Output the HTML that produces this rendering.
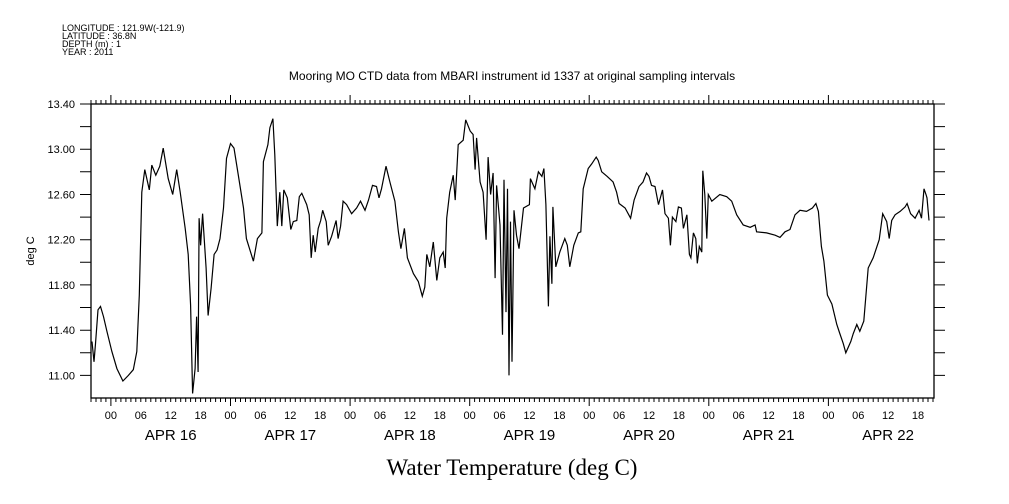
<!DOCTYPE html>
<html><head><meta charset="utf-8"><style>
body{margin:0;background:#fff;}
svg{display:block;font-family:"Liberation Sans",sans-serif;}
</style></head><body>
<svg id="chart" width="1009" height="504" viewBox="0 0 1009 504">
<g font-size="9" fill="#000">
<text x="62" y="31">LONGITUDE : 121.9W(-121.9)</text>
<text x="62" y="39">LATITUDE : 36.8N</text>
<text x="62" y="47">DEPTH (m) : 1</text>
<text x="62" y="55">YEAR : 2011</text>
</g>
<text x="512" y="80" font-size="12" text-anchor="middle">Mooring MO CTD data from MBARI instrument id 1337 at original sampling intervals</text>
<text x="0" y="0" font-size="11" text-anchor="middle" transform="translate(34,251) rotate(-90)">deg C</text>
<text x="512" y="475" font-size="23" text-anchor="middle" font-family="Liberation Serif, serif">Water Temperature (deg C)</text>
<g id="axes"></g>
<g id="series"></g>
</svg>
<script>
// hours since Apr 15 20:00
const times=[0.2,0.6,0.9,1.4,1.9,2.5,3.2,4.2,5.2,6.4,7.5,8.5,9.2,9.7,10.2,10.8,11.7,12.2,13.0,13.8,14.5,15.5,16.4,17.2,17.9,18.9,19.5,20.0,20.4,20.9,21.2,21.5,21.7,22.0,22.4,23.1,23.5,24.1,24.7,25.3,25.9,26.6,27.2,28.0,28.7,29.6,30.6,31.2,32.6,33.4,34.3,34.6,35.5,35.9,36.5,36.9,37.4,37.9,38.3,38.7,39.4,40.1,40.6,41.3,41.8,42.3,43.3,43.8,44.2,44.6,45.0,45.6,46.1,46.5,47.2,47.6,48.3,49.2,49.6,50.1,50.6,51.3,52.3,53.3,54.1,55.0,55.7,56.5,57.3,57.8,
58.3,59.2,60.0,61.0,61.7,62.2,62.9,63.5,64.7,65.7,66.5,67.0,67.4,68.0,68.7,69.4,70.0,70.7,71.1,71.4,72.0,72.7,73.1,73.7,74.7,75.2,76.1,76.7,77.1,77.4,78.1,78.7,79.3,79.7,80.2,80.7,81.1,81.4,82.1,82.6,82.9,83.3,83.6,83.9,84.2,84.5,84.9,85.4,85.9,86.8,88.0,88.2,89.1,89.8,90.5,90.9,91.3,91.8,92.1,92.5,92.7,93.3,94.1,95.1,95.6,96.1,96.9,97.8,98.3,98.8,99.8,100.5,101.4,101.8,102.5,103.6,104.8,105.5,106.0,107.2,108.3,109.0,110.0,110.8,111.5,112.0,112.5,113.2,113.9,114.7,115.2,115.9,
116.3,116.7,117.4,117.9,118.5,118.9,119.6,120.1,120.4,120.9,121.4,121.7,122.1,122.6,122.8,123.2,123.6,123.9,124.6,126.2,127.6,128.6,129.6,130.9,132.3,133.3,133.6,135.6,137.3,138.3,139.3,140.3,141.3,142.3,143.6,144.8,145.5,146.0,146.6,147.1,147.8,148.7,149.7,150.3,151.0,151.5,152.5,153.0,153.7,154.3,155.1,156.0,157.0,158.2,158.9,159.7,160.2,160.7,161.4,162.4,163.4,163.8,164.5,165.4,166.2,166.7,167.2,167.6,167.8,168.2];
const temps=[11.30,11.12,11.28,11.58,11.61,11.52,11.39,11.21,11.06,10.95,11.00,11.05,11.21,11.71,12.62,12.82,12.64,12.86,12.77,12.85,13.01,12.74,12.60,12.82,12.62,12.30,12.07,11.62,10.84,11.06,11.52,11.03,12.39,12.15,12.43,11.95,11.53,11.77,12.07,12.11,12.21,12.48,12.92,13.05,13.01,12.76,12.48,12.21,12.01,12.21,12.26,12.89,13.04,13.19,13.27,12.95,12.32,12.62,12.32,12.64,12.57,12.29,12.36,12.37,12.58,12.61,12.51,12.42,12.04,12.24,12.09,12.30,12.37,12.46,12.36,12.15,12.23,12.37,12.21,12.32,12.54,12.51,12.43,12.48,12.54,12.46,12.55,12.68,12.67,12.57,
12.65,12.85,12.71,12.54,12.27,12.12,12.30,12.04,11.90,11.83,11.70,11.78,12.07,11.96,12.18,11.84,12.04,12.09,11.95,12.39,12.62,12.77,12.55,13.04,13.08,13.26,13.16,13.13,12.82,13.10,12.71,12.62,12.20,12.93,12.60,12.79,11.86,12.68,12.33,11.36,12.73,11.56,12.65,11.00,12.36,11.12,12.46,12.24,12.12,12.48,12.51,12.74,12.65,12.80,12.76,12.83,12.51,11.61,12.23,11.81,12.49,11.96,12.09,12.21,12.15,11.96,12.15,12.26,12.27,12.65,12.83,12.87,12.93,12.90,12.80,12.76,12.71,12.62,12.52,12.48,12.39,12.55,12.67,12.71,12.79,12.76,12.68,12.67,12.51,12.64,12.43,12.39,
12.15,12.40,12.36,12.49,12.48,12.30,12.42,12.07,12.04,12.26,12.21,11.99,12.14,12.09,12.81,12.60,12.21,12.60,12.54,12.60,12.58,12.54,12.42,12.33,12.31,12.33,12.27,12.26,12.24,12.22,12.27,12.29,12.42,12.46,12.45,12.48,12.52,12.45,12.14,12.01,11.71,11.63,11.45,11.37,11.28,11.20,11.30,11.37,11.45,11.39,11.48,11.95,12.04,12.20,12.43,12.36,12.21,12.37,12.42,12.45,12.49,12.52,12.43,12.39,12.46,12.39,12.65,12.60,12.57,12.37];
const yTicks=["11.00","11.40","11.80","12.20","12.60","13.00","13.40"];
const hourLabels=["00","06","12","18"];
const dayLabels=["APR 16","APR 17","APR 18","APR 19","APR 20","APR 21","APR 22"];

const L=91,R=934,T=104,B=398,H0=0,H1=169.2,Y0=10.8,Y1=13.4;
const sx=h=>L+(h-H0)/(H1-H0)*(R-L);
const sy=v=>B-(v-Y0)/(Y1-Y0)*(B-T);
const NS="http://www.w3.org/2000/svg";
const axes=document.getElementById('axes');
function mk(tag,attrs,parent){const e=document.createElementNS(NS,tag);for(const k in attrs)e.setAttribute(k,attrs[k]);parent.appendChild(e);return e;}
const frame=mk('rect',{x:L,y:T,width:R-L,height:B-T,fill:'none',stroke:'#000','stroke-width':1.3},axes);


let d='';
for(let h=0;h<=H1;h+=1){const x=sx(h).toFixed(1);const major=((h-4)%24===0);d+=`M${x},${T}V${T-(major?9:4)}M${x},${B}V${B+(major?8:4)}`;}
for(let v=11.0;v<=13.41;v+=0.2){const y=sy(v).toFixed(1);d+=`M${L},${y}H${L-11}M${R},${y}H${R+11}`;}
const tk=mk('path',{d:d,stroke:'#000','stroke-width':1,fill:'none'},axes);


yTicks.forEach(t=>{const e=mk('text',{x:75,y:sy(parseFloat(t))+4,'font-size':11,'text-anchor':'end'},axes);e.textContent=t;

});
for(let h=4,i=0;h<=H1;h+=6,i++){const e=mk('text',{x:sx(h),y:419,'font-size':11,'text-anchor':'middle'},axes);e.textContent=hourLabels[i%4];

}
dayLabels.forEach((t,i)=>{const e=mk('text',{x:sx(16+24*i),y:440,'font-size':15,'text-anchor':'middle'},axes);e.textContent=t;

});
const pd=times.map((t,i)=>(i?'L':'M')+sx(t).toFixed(1)+','+sy(temps[i]).toFixed(1)).join('');
const line=mk('path',{d:pd,fill:'none',stroke:'#000','stroke-width':1.2},document.getElementById('series'));


</script>
</body></html>
